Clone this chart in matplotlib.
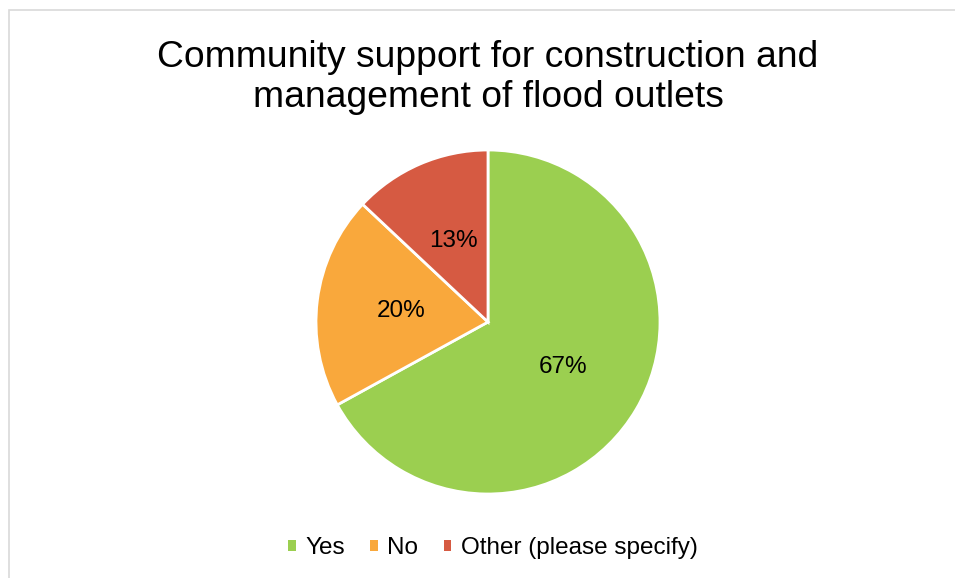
import matplotlib.pyplot as plt
from matplotlib.patches import Patch, Rectangle

plt.rcParams['font.family'] = ['Liberation Sans', 'DejaVu Sans']

# dados do gráfico
categorias = ["Yes", "No", "Other (please specify)"]
valores = [67, 20, 13]
cores = ["#9BCF50", "#F9A83C", "#D65A42"]
titulo = "Community support for construction and\nmanagement of flood outlets"

W, H = 955, 578
fig = plt.figure(figsize=(W / 100, H / 100), dpi=100)

# borda do gráfico (estilo Excel)
fig.patches.append(Rectangle((8.5 / W, -0.1), 2, 1 - 9.5 / H + 0.1,
                             transform=fig.transFigure, fill=False,
                             edgecolor="#D9D9D9", linewidth=1.2))

# pizza
cx, cy, r = 488, 322, 172
ax = fig.add_axes([(cx - r) / W, (H - cy - r) / H, 2 * r / W, 2 * r / H])
wedges, textos, pcts = ax.pie(valores, colors=cores, startangle=90, counterclock=False,
                              autopct="%1.0f%%", pctdistance=0.51,
                              wedgeprops=dict(edgecolor="white", linewidth=2),
                              textprops=dict(fontsize=17.5, color="#000000"))
ax.set_xlim(-1, 1)
ax.set_ylim(-1, 1)
ax.set_aspect("equal")
ax.axis("off")

# título (baseline da segunda linha)
fig.text(cx / W, 1 - 107 / H, titulo, ha="center", va="baseline", fontsize=26.8,
         linespacing=1.2, color="#000000")

# legenda
handles = [Patch(facecolor=c, edgecolor="none") for c in cores]
fig.legend(handles, categorias, loc="center", bbox_to_anchor=(493 / W, 1 - 548 / H),
           ncol=3, frameon=False, fontsize=17.5, handlelength=0.3, handleheight=0.3,
           handletextpad=0.4, columnspacing=1.05)

fig.savefig("out.png", dpi=100, facecolor="white")
